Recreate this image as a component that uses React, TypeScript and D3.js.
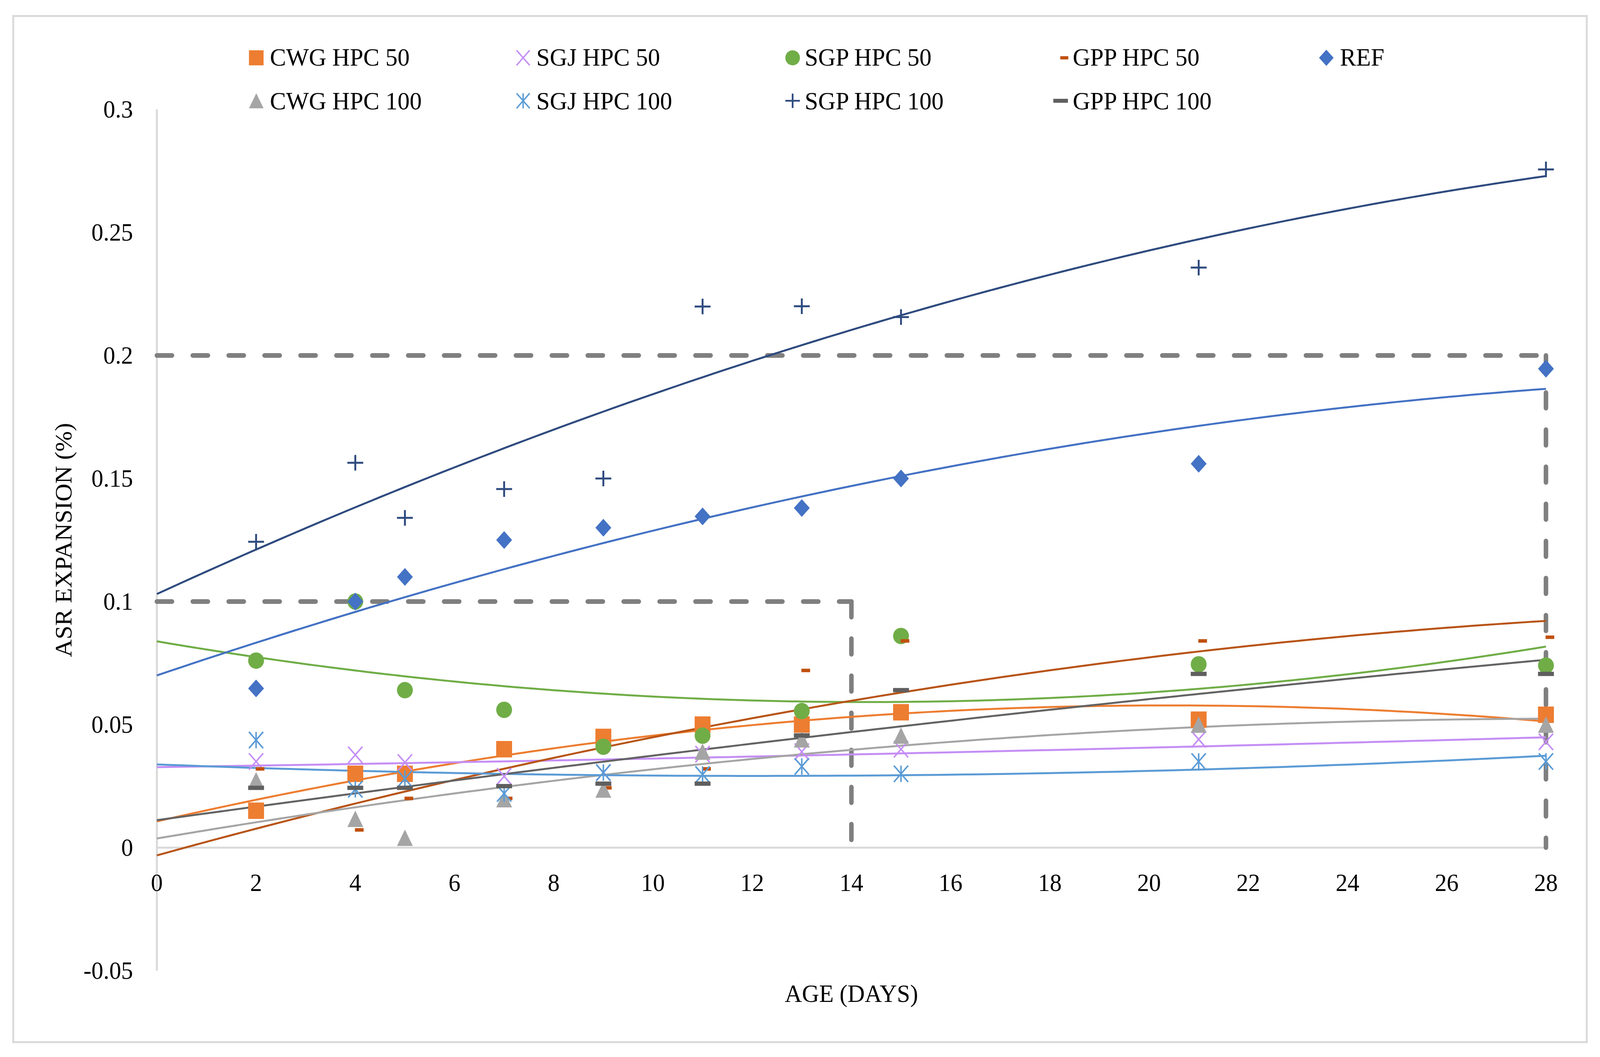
import React from 'react';
import * as d3 from 'd3';

const DAYS = [2, 4, 5, 7, 9, 11, 13, 15, 21, 28];
const CWG_HPC_50 = [0.015, 0.030, 0.030, 0.040, 0.045, 0.050, 0.050, 0.055, 0.052, 0.054];
const SGJ_HPC_50 = [0.035, 0.0377, 0.0346, 0.029, 0.0305, 0.038, 0.039, 0.040, 0.044, 0.043];
const SGP_HPC_50 = [0.076, 0.100, 0.064, 0.056, 0.041, 0.0455, 0.0555, 0.086, 0.0745, 0.074];
const GPP_HPC_50 = [0.032, 0.0072, 0.020, 0.020, 0.0243, 0.032, 0.072, 0.084, 0.084, 0.0855];
const REF = [0.0647, 0.100, 0.110, 0.125, 0.130, 0.1346, 0.138, 0.150, 0.156, 0.1946];
const CWG_HPC_100 = [0.0274, 0.0117, 0.004, 0.0197, 0.0236, 0.039, 0.044, 0.0455, 0.050, 0.050];
const SGJ_HPC_100 = [0.0437, 0.0237, 0.028, 0.022, 0.0305, 0.0297, 0.033, 0.030, 0.035, 0.035];
const SGP_HPC_100 = [0.1243, 0.1564, 0.134, 0.1457, 0.150, 0.2199, 0.220, 0.2156, 0.2357, 0.2756];
const GPP_HPC_100 = [0.0243, 0.0243, 0.0243, 0.025, 0.026, 0.026, 0.0456, 0.064, 0.0706, 0.0706];

const SERIES_NAMES = ['CWG HPC 50', 'SGJ HPC 50', 'SGP HPC 50', 'GPP HPC 50', 'REF', 'CWG HPC 100', 'SGJ HPC 100', 'SGP HPC 100', 'GPP HPC 100'];
const SERIES_VALUES = [CWG_HPC_50, SGJ_HPC_50, SGP_HPC_50, GPP_HPC_50, REF, CWG_HPC_100, SGJ_HPC_100, SGP_HPC_100, GPP_HPC_100];
const SERIES_MARKERS = ['square', 'x', 'circle', 'smalldash', 'diamond', 'triangle', 'star', 'plus', 'dash'];
const SERIES_COLORS = ['#ED7D31', '#C58EF5', '#70AD47', '#C0500E', '#4472C4', '#A5A5A5', '#5B9BD5', '#2F4B7F', '#5F5F5F'];
const TREND_COLORS = ['#ED7D31', '#C58EF5', '#70AD47', '#B85416', '#4472C4', '#A5A5A5', '#5B9BD5', '#2F4B7F', '#636363'];

const X_TICKS = d3.range(0, 29, 2);
const Y_TICKS = [-0.05, 0, 0.05, 0.1, 0.15, 0.2, 0.25, 0.3];
const REF_BOXES = [
  { x: 14, y: 0.1 },
  { x: 28, y: 0.2 },
];

const W = 4233;
const H = 2706;
const FONT = '"Liberation Serif", "Times New Roman", serif';

function quadFit(xs: number[], ys: number[]) {
  let s0 = 0, s1 = 0, s2 = 0, s3 = 0, s4 = 0, t0 = 0, t1 = 0, t2 = 0;
  xs.forEach((x, i) => {
    const y = ys[i];
    s0 += 1; s1 += x; s2 += x * x; s3 += x * x * x; s4 += x * x * x * x;
    t0 += y; t1 += x * y; t2 += x * x * y;
  });
  const M = [
    [s0, s1, s2, t0],
    [s1, s2, s3, t1],
    [s2, s3, s4, t2],
  ];
  for (let i = 0; i < 3; i++) {
    let p = i;
    for (let r = i + 1; r < 3; r++) if (Math.abs(M[r][i]) > Math.abs(M[p][i])) p = r;
    [M[i], M[p]] = [M[p], M[i]];
    for (let r = 0; r < 3; r++) {
      if (r === i) continue;
      const f = M[r][i] / M[i][i];
      for (let c = i; c < 4; c++) M[r][c] -= f * M[i][c];
    }
  }
  const a = M[0][3] / M[0][0];
  const b = M[1][3] / M[1][1];
  const c = M[2][3] / M[2][2];
  return (x: number) => a + b * x + c * x * x;
}

function Marker({ type, cx, cy, color, s = 1 }: { type: string; cx: number; cy: number; color: string; s?: number }) {
  const r = 21 * s;
  switch (type) {
    case 'square':
      return <rect x={cx - r} y={cy - r} width={2 * r} height={2 * r} fill={color} />;
    case 'circle':
      return <circle cx={cx} cy={cy} r={r} fill={color} />;
    case 'diamond':
      return <path d={`M${cx},${cy - r * 1.08}L${cx + r},${cy}L${cx},${cy + r * 1.08}L${cx - r},${cy}Z`} fill={color} />;
    case 'triangle':
      return <path d={`M${cx},${cy - r}L${cx + r},${cy + r}L${cx - r},${cy + r}Z`} fill={color} />;
    case 'x':
      return (
        <g stroke={color} strokeWidth={4 * s}>
          <line x1={cx - r * 0.9} y1={cy - r} x2={cx + r * 0.9} y2={cy + r} />
          <line x1={cx - r * 0.9} y1={cy + r} x2={cx + r * 0.9} y2={cy - r} />
        </g>
      );
    case 'star':
      return (
        <g stroke={color} strokeWidth={4 * s}>
          <line x1={cx - r * 0.9} y1={cy - r} x2={cx + r * 0.9} y2={cy + r} />
          <line x1={cx - r * 0.9} y1={cy + r} x2={cx + r * 0.9} y2={cy - r} />
          <line x1={cx} y1={cy - r} x2={cx} y2={cy + r} />
        </g>
      );
    case 'plus':
      return (
        <g stroke={color} strokeWidth={5 * s}>
          <line x1={cx - r} y1={cy} x2={cx + r} y2={cy} />
          <line x1={cx} y1={cy - r * 0.95} x2={cx} y2={cy + r * 0.95} />
        </g>
      );
    case 'dash':
      return <rect x={cx - r} y={cy - 5.5 * s} width={2 * r} height={11 * s} fill={color} />;
    case 'smalldash':
      return <rect x={cx - 1 * s} y={cy - 4.5 * s} width={23 * s} height={9 * s} fill={color} />;
    default:
      return null;
  }
}

export default function App() {
  const x = d3.scaleLinear().domain([0, 28]).range([415, 4090]);
  const y = d3.scaleLinear().domain([-0.05, 0.3]).range([2485, 280]);
  const samples = d3.range(0, 28.001, 0.25);

  const trends = SERIES_VALUES.map((vals) => {
    const f = quadFit(DAYS, vals);
    const line = d3
      .line<number>()
      .x((d) => x(d))
      .y((d) => y(f(d)));
    return line(samples) as string;
  });

  const legendCols = [
    { mx: 678, tx: 714 },
    { mx: 1384, tx: 1419 },
    { mx: 2097, tx: 2129 },
    { mx: 2806, tx: 2838 },
    { mx: 3509, tx: 3545 },
  ];
  const legendRows = [{ my: 148, ty: 168 }, { my: 258, ty: 280 }];

  return (
    <svg
      viewBox={`0 0 ${W} ${H}`}
      preserveAspectRatio="none"
      style={{ position: 'fixed', left: 0, top: 0, width: '100vw', height: '100vh', background: '#fff', display: 'block' }}
      fontFamily={FONT}
    >
      <rect x={0} y={0} width={W} height={H} fill="#fff" />
      <rect x={35} y={41} width={4198 - 35} height={2668 - 41} fill="none" stroke="#D9D9D9" strokeWidth={5} />

      {/* axis lines */}
      <line x1={x(0)} y1={y(0.3)} x2={x(0)} y2={y(-0.05)} stroke="#D9D9D9" strokeWidth={5} />
      <line x1={x(0)} y1={y(0)} x2={x(28)} y2={y(0)} stroke="#D9D9D9" strokeWidth={5} />

      {/* y tick labels */}
      {Y_TICKS.map((t) => (
        <text key={t} x={352} y={y(t) + 21} textAnchor="end" fontSize={63} fill="#000">
          {String(t)}
        </text>
      ))}
      {/* x tick labels */}
      {X_TICKS.map((t) => (
        <text key={t} x={x(t)} y={2281} textAnchor="middle" fontSize={63} fill="#000">
          {String(t)}
        </text>
      ))}

      {/* axis titles */}
      <text x={(x(0) + x(28)) / 2} y={2565} textAnchor="middle" fontSize={63} fill="#000">
        AGE (DAYS)
      </text>
      <text
        transform={`translate(189, ${(y(0.3) + y(-0.05)) / 2}) rotate(-90)`}
        textAnchor="middle"
        fontSize={63}
        fill="#000"
      >
        ASR EXPANSION (%)
      </text>

      {/* reference dashed boxes */}
      {REF_BOXES.map((b, i) => (
        <g key={i} stroke="#7F7F7F" strokeWidth={12} strokeLinecap="round" strokeDasharray="40 55" fill="none">
          <line x1={x(0)} y1={y(b.y)} x2={x(b.x)} y2={y(b.y)} />
          <line x1={x(b.x)} y1={y(b.y)} x2={x(b.x)} y2={y(0)} />
        </g>
      ))}

      {/* trend lines */}
      {trends.map((d, i) => (
        <path key={i} d={d} fill="none" stroke={TREND_COLORS[i]} strokeWidth={5} />
      ))}

      {/* markers */}
      {SERIES_VALUES.map((vals, si) => (
        <g key={si}>
          {vals.map((v, i) => (
            <Marker key={i} type={SERIES_MARKERS[si]} cx={x(DAYS[i])} cy={y(v)} color={SERIES_COLORS[si]} />
          ))}
        </g>
      ))}

      {/* legend */}
      {SERIES_NAMES.map((name, i) => {
        const row = i < 5 ? 0 : 1;
        const col = i < 5 ? i : i - 5;
        const c = legendCols[col];
        const r = legendRows[row];
        return (
          <g key={name}>
            <Marker type={SERIES_MARKERS[i]} cx={c.mx} cy={r.my} color={SERIES_COLORS[i]} s={0.92} />
            <text x={c.tx} y={r.ty} fontSize={64} fill="#000">
              {name}
            </text>
          </g>
        );
      })}
    </svg>
  );
}
